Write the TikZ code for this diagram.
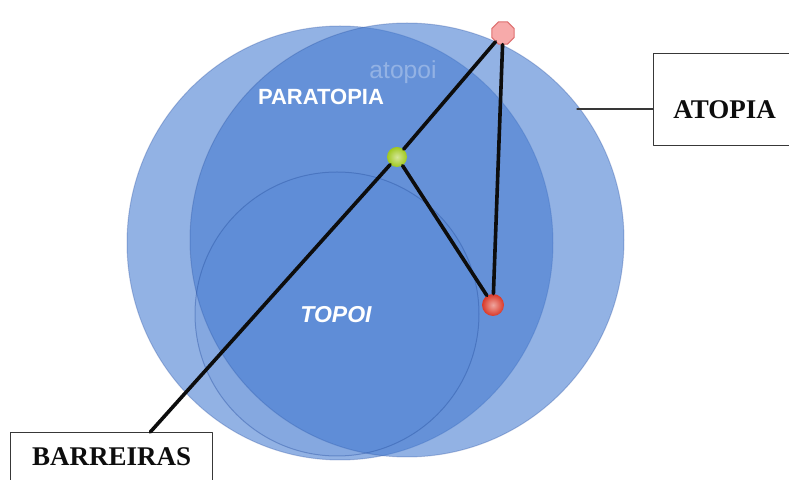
\documentclass[tikz,border=0pt]{standalone}
\usepackage{fontspec}
\setmainfont{Liberation Serif}
\newfontfamily\vennsans{Liberation Sans}
\usetikzlibrary{calc,shapes.geometric}
\definecolor{VennFill}{RGB}{68,122,208}
\definecolor{VennEdge}{RGB}{40,80,160}
\definecolor{VennInk}{gray}{0.05}
\definecolor{VennFrame}{gray}{0.22}
\definecolor{DotPink}{RGB}{247,170,170}
\definecolor{DotPinkEdge}{RGB}{222,112,112}
\definecolor{DotGreen}{RGB}{160,200,30}
\definecolor{DotRed}{RGB}{218,56,40}
\tikzset{
    venn/diagram/.style={
        x=0.5pt, y=-0.5pt,
        line cap=round,
        line join=round
    },
    venn/set/.style={
        fill=VennFill, fill opacity=0.58,
        draw=VennEdge, draw opacity=0.3, line width=0.5pt
    },
    venn/core/.style={
        fill=VennFill, fill opacity=0.18,
        draw=VennEdge, draw opacity=0.4, line width=0.5pt
    },
    venn/link/.style={draw=VennInk, line width=1.8pt},
    venn/leader/.style={draw=VennFrame, line width=0.6pt},
    venn/label/.style={text=white, font=\vennsans\bfseries\fontsize{11}{13}\selectfont},
    venn/ghost/.style={text=white, text opacity=0.3, font=\vennsans\fontsize{12.3}{14}\selectfont},
    venn/box/.style={
        draw=VennFrame, line width=0.7pt, fill=white, text=VennInk,
        inner xsep=0pt, inner ysep=0pt, anchor=north west,
        font=\bfseries\fontsize{13.5}{16}\selectfont
    },
    venn/dot/.style={
        circle, inner sep=0pt, minimum size=11pt,
        shading=radial, inner color=#1!45!white, outer color=#1
    },
    venn/peak/.style={
        regular polygon, regular polygon sides=8, inner sep=0pt,
        minimum size=12pt, fill=DotPink, draw=DotPinkEdge, line width=0.5pt
    }
}
\begin{document}
\begin{tikzpicture}[venn/diagram]
    \useasboundingbox (0,0) rectangle (789,480);
    \clip (0,0) rectangle (789,480);
    % sets
    \path[venn/set] (340,243) ellipse [x radius=106.5pt, y radius=108.5pt];
    \path[venn/set] (407,240) circle [radius=108.5pt];
    \path[venn/core] (337,314) circle [radius=71pt];
    \node[venn/label] (paratopia) at (321,97) {PARATOPIA};
    \node[venn/ghost] (atopoi) at (403,72) {atopoi};
    \node[venn/label, font=\vennsans\bfseries\itshape\fontsize{11.5}{13}\selectfont]
        (topoi) at (336,315) {TOPOI};
    % points
    \node[venn/peak] (peak) at (503,33) {};
    \node[venn/dot=DotGreen, minimum size=10pt] (pivot) at (397,157) {};
    \node[venn/dot=DotRed] (base) at (493,305) {};
    % boxes
    \node[venn/box, minimum width=101pt, text height=16.5pt, text depth=17.5pt]
        (barreiras) at (10,432) {BARREIRAS};
    \node[venn/box, minimum width=71pt, text height=32.5pt, text depth=13.5pt]
        (atopia) at (653,53) {ATOPIA};
    \coordinate (entry) at ($(barreiras.north west)!0.69!(barreiras.north east)$);
    \coordinate (rim) at (577,109);
    % connectors
    \draw[venn/link] (peak) -- (pivot);
    \draw[venn/link] (pivot) -- (entry);
    \draw[venn/link] (pivot) -- (base);
    \draw[venn/link] (peak) -- (base);
    \draw[venn/leader] (rim) -- (rim -| atopia.west);
\end{tikzpicture}
\end{document}
